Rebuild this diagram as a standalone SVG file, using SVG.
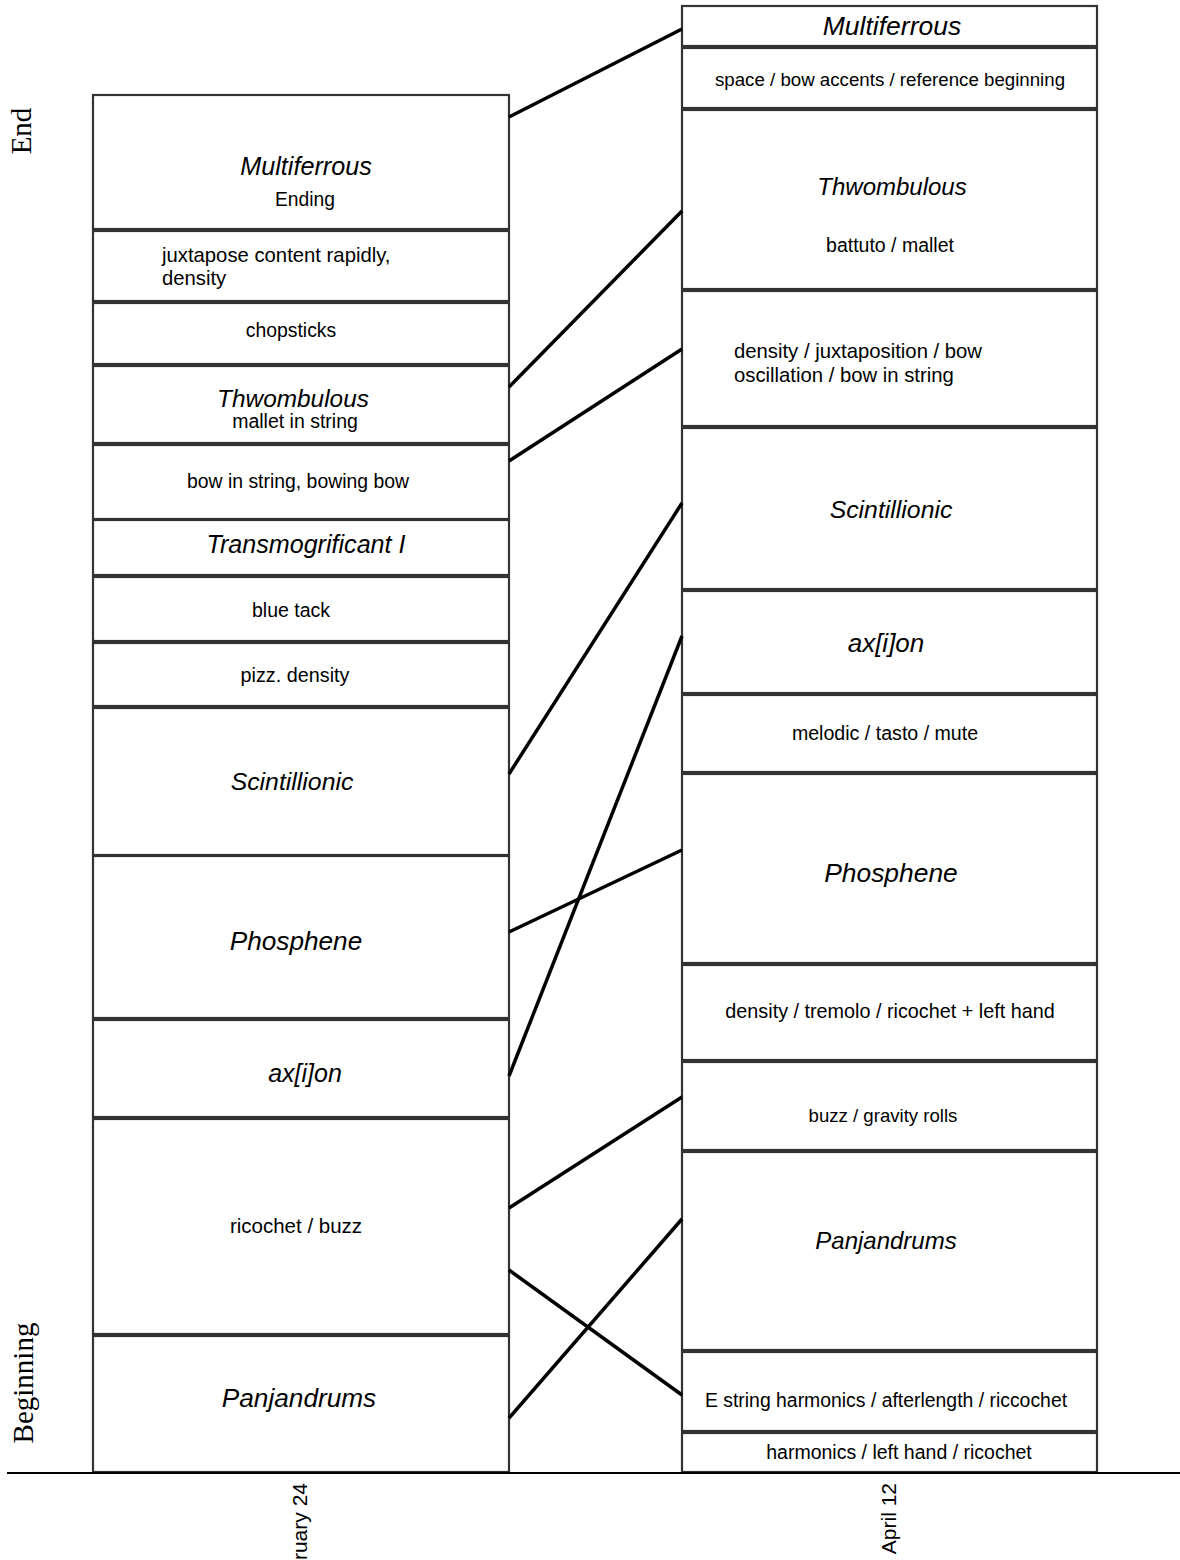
<svg xmlns="http://www.w3.org/2000/svg" width="1180" height="1560" viewBox="0 0 1180 1560">
<style>
.box{fill:#fff;stroke:#333;stroke-width:2.2}
.t{font-family:"Liberation Sans",Arial,sans-serif;font-size:19.5px;fill:#000;text-anchor:middle}
.ts{font-family:"Liberation Sans",Arial,sans-serif;font-size:20.3px;fill:#000}
.ti{font-family:"Liberation Sans",Arial,sans-serif;font-size:25px;font-style:italic;fill:#000;text-anchor:middle}
.side{font-family:"Liberation Serif","Times New Roman",serif;font-size:29px;fill:#000;text-anchor:middle}
.date{font-family:"Liberation Sans",Arial,sans-serif;font-size:21px;fill:#000;text-anchor:end}
.conn line{stroke:#000;stroke-width:3.5;stroke-linecap:butt}
</style>
<rect width="1180" height="1560" fill="#fff"/>
<text class="side" transform="translate(31,131) rotate(-90)">End</text>
<text class="side" transform="translate(33,1383) rotate(-90)">Beginning</text>
<g id="left">
<g id="L1"><rect class="box" x="93" y="95" width="416" height="134"/><text class="ti" x="306" y="175" style="font-size:25.2px">Multiferrous</text><text class="t" x="305" y="206" style="font-size:19.3px">Ending</text></g>
<g id="L2"><rect class="box" x="93" y="231" width="416" height="70"/><text class="ts" x="162" y="262">juxtapose content rapidly,</text><text class="ts" x="162" y="285">density</text></g>
<g id="L3"><rect class="box" x="93" y="303" width="416" height="61"/><text class="t" x="291" y="337" style="font-size:19.4px">chopsticks</text></g>
<g id="L4"><rect class="box" x="93" y="366" width="416" height="77"/><text class="ti" x="293" y="407" style="font-size:24.4px">Thwombulous</text><text class="t" x="295" y="428">mallet in string</text></g>
<g id="L5"><rect class="box" x="93" y="445" width="416" height="74"/><text class="t" x="298" y="488" style="font-size:19.4px">bow in string, bowing bow</text></g>
<g id="L6"><rect class="box" x="93" y="520" width="416" height="55"/><text class="ti" x="306" y="553" style="font-size:25.1px">Transmogrificant I</text></g>
<g id="L7"><rect class="box" x="93" y="577" width="416" height="64"/><text class="t" x="291" y="617">blue tack</text></g>
<g id="L8"><rect class="box" x="93" y="643" width="416" height="63"/><text class="t" x="295" y="682" style="font-size:19.8px">pizz. density</text></g>
<g id="L9"><rect class="box" x="93" y="708" width="416" height="147"/><text class="ti" x="292" y="790" style="font-size:24.8px">Scintillionic</text></g>
<g id="L10"><rect class="box" x="93" y="856" width="416" height="162"/><text class="ti" x="296" y="950" style="font-size:26.2px">Phosphene</text></g>
<g id="L11"><rect class="box" x="93" y="1020" width="416" height="97"/><text class="ti" x="305" y="1082">ax[i]on</text></g>
<g id="L12"><rect class="box" x="93" y="1119" width="416" height="215"/><text class="t" x="296" y="1233" style="font-size:20.5px">ricochet / buzz</text></g>
<g id="L13"><rect class="box" x="93" y="1336" width="416" height="136"/><text class="ti" x="299" y="1407" style="font-size:26.2px">Panjandrums</text></g>
</g>
<g id="right">
<g id="R1"><rect class="box" x="682" y="6" width="415" height="40"/><text class="ti" x="892" y="35" style="font-size:26.5px">Multiferrous</text></g>
<g id="R2"><rect class="box" x="682" y="48" width="415" height="60"/><text class="t" x="890" y="86" style="font-size:18.7px">space / bow accents / reference beginning</text></g>
<g id="R3"><rect class="box" x="682" y="110" width="415" height="179"/><text class="ti" x="892" y="195" style="font-size:24px">Thwombulous</text><text class="t" x="890" y="252">battuto / mallet</text></g>
<g id="R4"><rect class="box" x="682" y="291" width="415" height="135"/><text class="ts" x="734" y="358">density / juxtaposition / bow</text><text class="ts" x="734" y="382">oscillation / bow in string</text></g>
<g id="R5"><rect class="box" x="682" y="428" width="415" height="161"/><text class="ti" x="891" y="518" style="font-size:24.8px">Scintillionic</text></g>
<g id="R6"><rect class="box" x="682" y="591" width="415" height="102"/><text class="ti" x="886" y="652" style="font-size:26px">ax[i]on</text></g>
<g id="R7"><rect class="box" x="682" y="695" width="415" height="77"/><text class="t" x="885" y="740" style="font-size:19.6px">melodic / tasto / mute</text></g>
<g id="R8"><rect class="box" x="682" y="774" width="415" height="189"/><text class="ti" x="891" y="882" style="font-size:26.4px">Phosphene</text></g>
<g id="R9"><rect class="box" x="682" y="965" width="415" height="95"/><text class="t" x="890" y="1018" style="font-size:19.8px">density / tremolo / ricochet + left hand</text></g>
<g id="R10"><rect class="box" x="682" y="1062" width="415" height="88"/><text class="t" x="883" y="1122" style="font-size:18.6px">buzz / gravity rolls</text></g>
<g id="R11"><rect class="box" x="682" y="1152" width="415" height="198"/><text class="ti" x="886" y="1249" style="font-size:24px">Panjandrums</text></g>
<g id="R12"><rect class="box" x="682" y="1352" width="415" height="79"/><text class="t" x="886" y="1407" style="font-size:19.4px">E string harmonics / afterlength / riccochet</text></g>
<g id="R13"><rect class="box" x="682" y="1433" width="415" height="39"/><text class="t" x="899" y="1459">harmonics / left hand / ricochet</text></g>
</g>
<line x1="7" y1="1473" x2="1180" y2="1473" stroke="#000" stroke-width="2"/>
<text class="date" transform="translate(307,1483) rotate(-90)">February 24</text>
<text class="date" transform="translate(896,1483) rotate(-90)">April 12</text>
<g class="conn" id="connectors">
<line x1="509" y1="117" x2="682" y2="29"/>
<line x1="509" y1="387" x2="682" y2="211"/>
<line x1="509" y1="461" x2="682" y2="349"/>
<line x1="509" y1="774" x2="682" y2="503"/>
<line x1="509" y1="932" x2="682" y2="850"/>
<line x1="509" y1="1076" x2="682" y2="636"/>
<line x1="509" y1="1208" x2="682" y2="1097"/>
<line x1="509" y1="1270" x2="682" y2="1395"/>
<line x1="509" y1="1418" x2="682" y2="1219"/>
</g>
</svg>
